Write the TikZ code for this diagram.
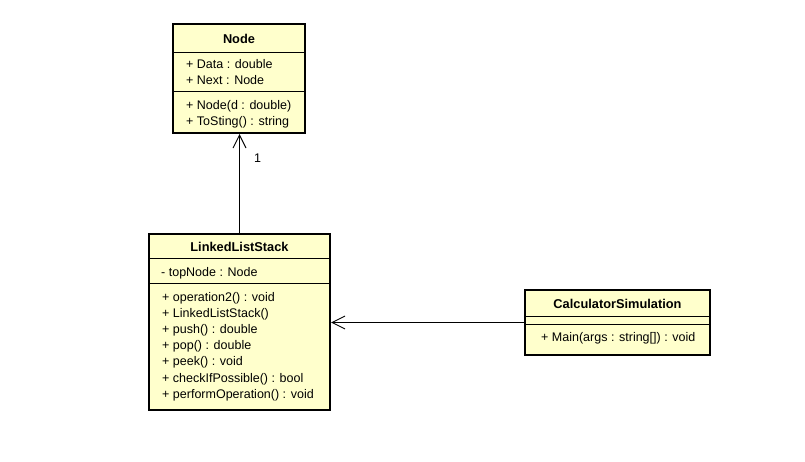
\documentclass[tikz,border=0pt]{standalone}
\usepackage{fontspec}
\setmainfont{Liberation Sans}
\usetikzlibrary{arrows.meta}
\definecolor{classfill}{HTML}{FFFFCC}
\tikzset{
  classbox/.style={draw=black, line width=2pt, fill=classfill, rectangle, inner sep=0pt},
  sep/.style={draw=black, line width=0.8pt},
  member/.style={anchor=west, inner sep=0pt, font=\fontsize{12.5}{14}\selectfont},
  title/.style={anchor=center, inner sep=0pt, font=\fontsize{12.8}{14}\selectfont\bfseries},
  assoc/.style={draw=black, line width=0.9pt, -{Straight Barb[length=13pt,width=13pt,line width=0.9pt]}},
  mult/.style={anchor=west, inner sep=0pt, font=\fontsize{12.5}{14}\selectfont}
}
\begin{document}
\begin{tikzpicture}[x=1pt,y=-1pt]
\useasboundingbox[fill=white] (0,0) rectangle (805,462);
% Node class
\node[classbox, minimum width=132pt, minimum height=109pt] (node) at (239,78.5) {};
\draw[sep] (173,52) -- (305,52);
\draw[sep] (173,91) -- (305,91);
\node[title] (nodeT) at (239,39) {Node};
\node[member] (n1) at (186,64) {+ Data : double};
\node[member] (n2) at (186,80.5) {+ Next : Node};
\node[member] (n3) at (186,106) {+ Node(d : double)};
\node[member] (n4) at (186,122.5) {+ ToSting() : string};
% LinkedListStack
\node[classbox, minimum width=181pt, minimum height=176pt] (lls) at (239.5,322) {};
\draw[sep] (149,258) -- (330,258);
\draw[sep] (149,283) -- (330,283);
\node[title] (llsT) at (239.5,247) {LinkedListStack};
\node[member] (l0) at (161,273) {- topNode : Node};
\node[member] (l1) at (162,298.5) {+ operation2() : void};
\node[member] (l2) at (162,314.5) {+ LinkedListStack()};
\node[member] (l3) at (162,330.5) {+ push() : double};
\node[member] (l4) at (162,346.5) {+ pop() : double};
\node[member] (l5) at (162,362.5) {+ peek() : void};
\node[member] (l6) at (162,379) {+ checkIfPossible() : bool};
\node[member] (l7) at (162,395) {+ performOperation() : void};
% CalculatorSimulation
\node[classbox, minimum width=185pt, minimum height=65pt] (cs) at (617.5,322.5) {};
\draw[sep] (525,316) -- (710,316);
\draw[sep] (525,324) -- (710,324);
\node[title] (csT) at (617.5,303.5) {CalculatorSimulation};
\node[member] (c1) at (541,338.5) {+ Main(args : string[]) : void};
% connectors
\draw[assoc] (lls.north) -- (lls.north |- node.south);
\node[mult] (m1) at (254,158) {1};
\draw[assoc] (cs.west) -- (cs.west -| lls.east);
\end{tikzpicture}
\end{document}
